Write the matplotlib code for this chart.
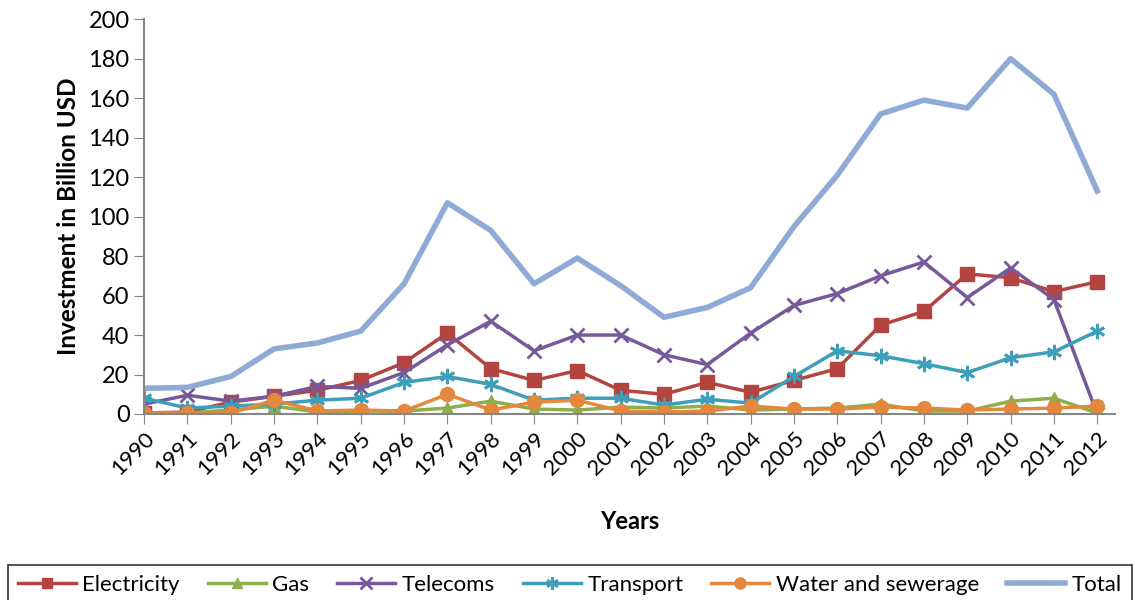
import matplotlib.pyplot as plt
import numpy as np


years = list(range(1990, 2013))

electricity = [0.5, 1, 6, 9, 12, 17, 26, 41, 23, 17, 22, 12, 10, 16, 11, 17, 23, 45, 52, 71, 69, 62, 67]
gas = [0.5, 0.5, 2, 4, 1, 1.5, 1.5, 3, 6.5, 2.5, 2, 3.5, 3, 4, 2, 2.5, 3, 5, 1.5, 1.5, 6.5, 8, 0.5]
telecoms = [5, 9.5, 6.5, 9, 14, 13, 21, 35, 47, 32, 40, 40, 30, 25, 41, 55, 61, 70, 77, 59, 74, 58, 0]
transport = [8, 3, 4, 5, 7, 8, 16, 19, 15, 7, 8, 8, 4.5, 7.5, 5.5, 19, 32, 29.5, 25.5, 21, 28.5, 31.5, 42]
water = [0.5, 0.5, 0.5, 7, 1.5, 2, 1.5, 10, 2, 6, 7, 1.5, 1, 1.5, 4, 2.5, 2.5, 3.5, 3, 2, 2.5, 3, 4]
total = [13, 13.5, 19, 33, 36, 42, 66, 107, 93, 66, 79, 65, 49, 54, 64, 95, 121, 152, 159, 155, 180, 162, 113]

plt.rcParams["font.family"] = ["Lato", "DejaVu Sans"]

fig = plt.figure(figsize=(11.35, 6), dpi=100)
ax = fig.add_axes([0.127, 0.31, 0.855, 0.658])

ax.plot(years, electricity, color="#B4443F", lw=2.5, marker="s", ms=9.5,
        label="Electricity")
ax.plot(years, gas, color="#8DAE4B", lw=2.5, marker="^", ms=9,
        label="Gas")
ax.plot(years, telecoms, color="#76589B", lw=2.5, marker="x", ms=10,
        mew=2, label="Telecoms")
ax.plot(years, transport, color="#3D9FBA", lw=2.5, marker=(6, 2, 0), ms=11,
        mew=2, label="Transport")
ax.plot(years, water, color="#E3883D", lw=2.5, marker="o", ms=10,
        label="Water and sewerage")
ax.plot(years, total, color="#8FAAD6", lw=4, label="Total")

ax.set_xlim(1990, 2012.4)
ax.set_ylim(0, 200)
ax.set_yticks(np.arange(0, 201, 20))
ax.set_xticks(years)
ax.set_xticklabels([str(y) for y in years], rotation=45, ha="right",
                   rotation_mode="anchor", fontsize=16)
ax.tick_params(axis="y", labelsize=17, length=7, color="#868686")
ax.tick_params(axis="x", length=7, color="#868686")

for side in ["top", "right"]:
    ax.spines[side].set_visible(False)
for side in ["left", "bottom"]:
    ax.spines[side].set_color("#868686")
    ax.spines[side].set_linewidth(1.5)

ax.set_ylabel("Investment in Billion USD", fontsize=17.5, fontweight="bold",
              labelpad=6)
ax.set_xlabel("Years", fontsize=17, fontweight="bold", labelpad=22)

leg = fig.legend(loc="upper left", bbox_to_anchor=(0.007, 0, 0.99, 0.058),
                 mode="expand", ncol=6, fontsize=16, frameon=True,
                 fancybox=False, edgecolor="black", handlelength=2.6,
                 handletextpad=0.3, borderaxespad=0, borderpad=0.45,
                 markerscale=0.8)
leg.get_frame().set_linewidth(1.2)

fig.savefig("out.png", dpi=100)
